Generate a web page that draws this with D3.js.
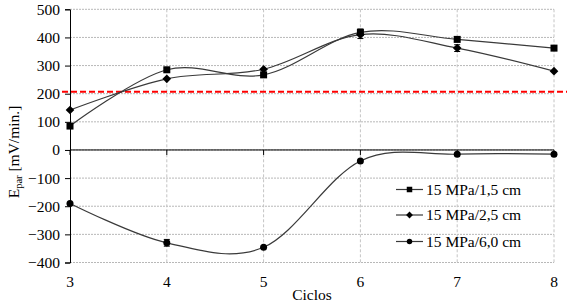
<!DOCTYPE html>
<html><head><meta charset="utf-8">
<script src="https://cdn.jsdelivr.net/npm/d3@7"></script>
<style>body{margin:0;background:#fff}svg{display:block}text{font-family:"Liberation Serif","Times New Roman",serif}</style>
</head><body><svg id="c" width="567" height="307"></svg>
<script>
const cycles = [3,4,5,6,7,8];
const s15 = [85,285,267,418,393,362];
const s25 = [142,253,287,410,362,280];
const s60 = [-190,-330,-346,-39,-15,-15];
const err15 = [0,0,0,12,0,0];
const err25 = [0,0,0,14,12,0];
const err60 = [0,12,0,0,0,0];
const seriesNames = ["15 MPa/1,5 cm","15 MPa/2,5 cm","15 MPa/6,0 cm"];
const yTicks = [-400,-300,-200,-100,0,100,200,300,400,500];
const threshold = 207;

const svg = d3.select("#c");
const x = d3.scaleLinear().domain([3,8]).range([70,554]);
const y = d3.scaleLinear().domain([-400,500]).range([262.5,9.3]);
const FS = 15.5;

// gridlines
svg.append("g").selectAll("line").data(yTicks).join("line")
  .attr("x1",70).attr("x2",554).attr("y1",d=>y(d)).attr("y2",d=>y(d))
  .attr("stroke","#b8b8b8").attr("stroke-width",1).attr("stroke-dasharray","2,1");
svg.append("g").selectAll("line").data(cycles.slice(1)).join("line")
  .attr("x1",d=>x(d)).attr("x2",d=>x(d)).attr("y1",y(500)).attr("y2",y(-400))
  .attr("stroke","#c4c4c4").attr("stroke-width",1).attr("stroke-dasharray","3,2");

// y axis
const ya = svg.append("g").attr("transform","translate(70,0)")
  .call(d3.axisLeft(y).tickValues(yTicks).tickSize(5).tickPadding(5).tickFormat(d3.format("d")));
ya.attr("font-family",null).attr("font-size",null);
ya.select(".domain").attr("stroke","#000");
ya.selectAll("text").style("font-size",FS+"px").attr("fill","#000");

// zero axis
svg.append("line").attr("x1",70).attr("x2",554).attr("y1",y(0)).attr("y2",y(0)).attr("stroke","#000");
svg.append("g").selectAll("line").data(cycles).join("line")
  .attr("x1",d=>x(d)).attr("x2",d=>x(d)).attr("y1",y(0)).attr("y2",y(0)+5).attr("stroke","#000");

// x tick labels at bottom
svg.append("g").selectAll("text").data(cycles).join("text")
  .attr("x",d=>x(d)).attr("y",287).attr("text-anchor","middle")
  .style("font-size",FS+"px").text(d=>d);

// threshold
svg.append("line").attr("x1",62).attr("x2",567).attr("y1",y(threshold)).attr("y2",y(threshold))
  .attr("stroke","#ff0000").attr("stroke-width",2).attr("stroke-dasharray","6,3");

const line = d3.line().x(d=>x(d[0])).y(d=>y(d[1])).curve(d3.curveCardinal.tension(0));
const data = [s15,s25,s60];
const errs = [err15,err25,err60];

function marker(g, i, s){
  if(i===0) g.append("rect").attr("x",-s/2).attr("y",-s/2).attr("width",s).attr("height",s).attr("fill","#000");
  else if(i===1){ const r=s*0.62; g.append("path").attr("d",`M0,${-r}L${r},0L0,${r}L${-r},0Z`).attr("fill","#000"); }
  else g.append("circle").attr("r",s/2).attr("fill","#000");
}

data.forEach((s,i)=>{
  const pts = cycles.map((c,j)=>[c,s[j]]);
  svg.append("path").attr("d",line(pts)).attr("fill","none").attr("stroke","#3a3a3a").attr("stroke-width",1.2);
  pts.forEach((p,j)=>{
    const e = errs[i][j]; if(!e) return;
    const g = svg.append("g").attr("stroke","#000").attr("stroke-width",1);
    g.append("line").attr("x1",x(p[0])).attr("x2",x(p[0])).attr("y1",y(p[1]-e)).attr("y2",y(p[1]+e));
    g.append("line").attr("x1",x(p[0])-3).attr("x2",x(p[0])+3).attr("y1",y(p[1]-e)).attr("y2",y(p[1]-e));
    g.append("line").attr("x1",x(p[0])-3).attr("x2",x(p[0])+3).attr("y1",y(p[1]+e)).attr("y2",y(p[1]+e));
  });
  pts.forEach(p=>{
    const g = svg.append("g").attr("transform",`translate(${x(p[0])},${y(p[1])})`);
    marker(g,i,7);
  });
});

// legend
const ly = [189.5,215,241.5];
seriesNames.forEach((n,i)=>{
  svg.append("line").attr("x1",396).attr("x2",423).attr("y1",ly[i]).attr("y2",ly[i]).attr("stroke","#3a3a3a").attr("stroke-width",1.2);
  marker(svg.append("g").attr("transform",`translate(409.5,${ly[i]})`), i, 5.5);
  svg.append("text").attr("x",426).attr("y",ly[i]+5).style("font-size",FS+"px").text(n);
});

// axis titles
svg.append("text").attr("x",312).attr("y",300).attr("text-anchor","middle").style("font-size",FS+"px").text("Ciclos");
const yt = svg.append("text").attr("transform","translate(19,152) rotate(-90)").attr("text-anchor","middle")
  .style("font-size",FS+"px");
yt.append("tspan").text("E");
yt.append("tspan").style("font-size","10.5px").attr("dy",3).text("par");
yt.append("tspan").attr("dy",-3).text(" [mV/min.]");
</script></body></html>
